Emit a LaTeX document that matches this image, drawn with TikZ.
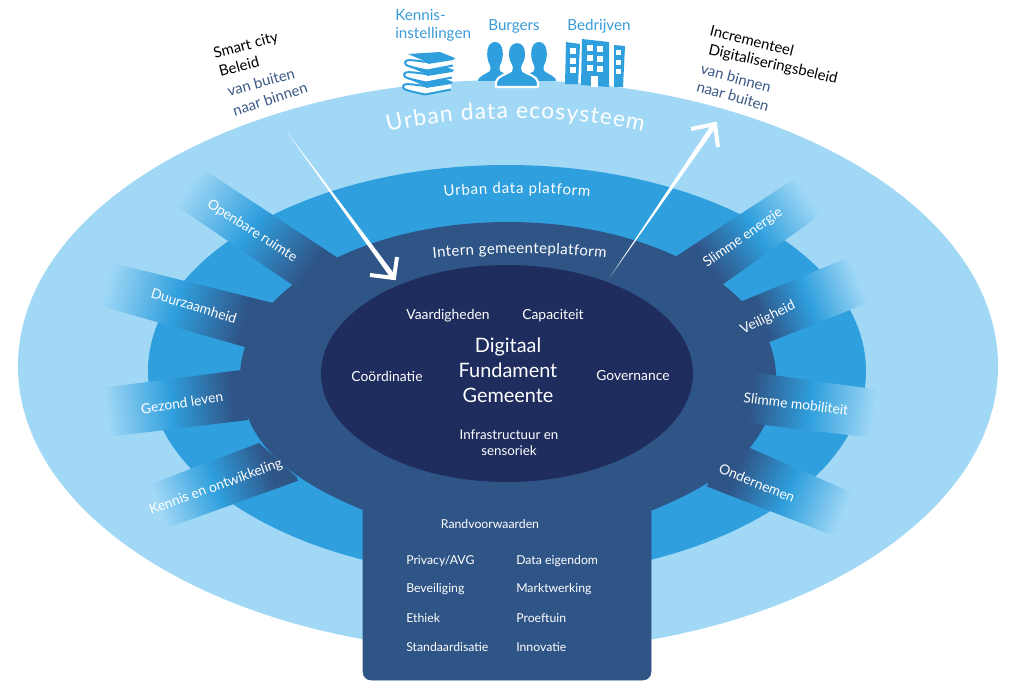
\documentclass[tikz,border=0pt]{standalone}
\usepackage{fontspec}
\setmainfont{Lato}
\usetikzlibrary{calc,decorations.text}
\definecolor{outerc}{HTML}{A1D8F6}
\definecolor{platc}{HTML}{2F9FDD}
\definecolor{internc}{HTML}{2F5486}
\definecolor{innerc}{HTML}{1F2D5E}
\definecolor{icontext}{HTML}{3A9BD8}
\definecolor{subtext}{HTML}{3C5A86}
\pgfdeclarehorizontalshading{bandgrad}{100bp}{color(0bp)=(outerc); color(29bp)=(outerc); color(49bp)=(platc); color(68bp)=(internc); color(100bp)=(internc)}
\newcommand{\fs}[1]{\fontsize{#1}{#1}\selectfont}
\tikzset{
  lbl/.style={text=white,font=\fs{10.4},inner sep=0pt},
  boxlbl/.style={text=white,font=\fs{9.2},inner sep=0pt,anchor=west},
  bandlbl/.style={text=white,font=\fs{10.4},inner sep=0pt},
  toplbl/.style={text=icontext,font=\fs{11.4},inner sep=0pt},
  blacklbl/.style={text=black,font=\fs{11.2},inner sep=0pt},
  sublbl/.style={text=subtext,font=\fs{11.2},inner sep=0pt},
}
% name, outer-top, inner-top, inner-bottom, outer-bottom
\newcommand{\bandshape}[5]{%
  \path let \p1=($#2!.5!#5$), \p2=($#3!.5!#4$), \p3=($(\p1)!.5!(\p2)$),
      \n1={atan2(\y2-\y1,\x2-\x1)}, \n2={veclen(\x2-\x1,\y2-\y1)} in
      \pgfextra{\xdef\bcx{\x3}\xdef\bcy{\y3}\xdef\bang{\n1}\xdef\blen{\n2}};
  \begin{scope}
    \clip #2 -- #3 -- #4 -- #5 -- cycle;
    \begin{scope}[transform canvas={shift={(\bcx,\bcy)},rotate=\bang}]
      \shade[shading=bandgrad] (-\blen/2-8pt,-80pt) rectangle (\blen/2+8pt,80pt);
    \end{scope}
  \end{scope}}
\newcommand{\bookicon}[1]{%
  \begin{scope}[shift={#1}]
    \fill[platc] (408,54) -- (440,52) -- (455,58) -- (427,62) -- cycle;
    \draw[platc,line width=1.5pt,line join=round,fill=white] (453,58.5) -- (427,62) .. controls (412,60) and (405,59) .. (405,62.5) .. controls (404,66) and (412,67) .. (427,70.5) -- (453,65.5);
    \fill[platc] (427,62) -- (455,58) -- (453,60) -- (428,64) -- cycle;
  \end{scope}}
\newcommand{\personicon}[3]{% cx, scale, outline
  \begin{scope}[shift={(#1,0)}]
    \path[fill=platc,draw=#3,line width=1.6pt,line join=round]
      (-#2*21,87) -- (-#2*21,82) .. controls (-#2*20,76) and (-#2*10,74) .. (-#2*6,71)
      .. controls (-#2*5,68) and (-#2*5,67) .. (-#2*6,65)
      .. controls (-#2*11,58) and (-#2*11,42) .. (0,42)
      .. controls (#2*11,42) and (#2*11,58) .. (#2*6,65)
      .. controls (#2*5,67) and (#2*5,68) .. (#2*6,71)
      .. controls (#2*10,74) and (#2*20,76) .. (#2*21,82) -- (#2*21,87) -- cycle;
  \end{scope}}
\begin{document}
\begin{tikzpicture}[x=0.75pt,y=-0.75pt]
\useasboundingbox (0,0) rectangle (1024,697);
\fill[white] (0,0) rectangle (1024,697);
% ellipses
\fill[outerc] (508,366) ellipse [x radius=490,y radius=286];
\fill[platc] (507,371) ellipse [x radius=359,y radius=206];
\fill[internc] (508,377) ellipse [x radius=268,y radius=155];
\fill[internc] (240,372) .. controls (240,425) and (265,470) .. (363,510) -- (653,510) .. controls (751,470) and (776,425) .. (776,372) -- cycle;
% bands
\bandshape{b1}{(200,167)}{(338,258)}{(310,297)}{(168,200)}
\bandshape{b2}{(113,263)}{(273,303)}{(245,347)}{(90,303)}
\bandshape{b3}{(100,388)}{(241,370)}{(248,420)}{(107,437)}
\bandshape{b4}{(143,487)}{(259,443)}{(300,480)}{(170,527)}
\bandshape{b5}{(797,177)}{(675,257)}{(722,285)}{(823,213)}
\bandshape{b6}{(847,258)}{(740,302)}{(767,343)}{(870,302)}
\bandshape{b7}{(880,390)}{(737,370)}{(740,422)}{(873,438)}
\bandshape{b8}{(853,493)}{(750,448)}{(703,485)}{(837,537)}
% lower box
\draw[fill=internc,draw=internc,rounded corners=6pt] (363,490) -- (363,680) -- (651,680) -- (651,490) -- cycle;
% inner ellipse
\fill[innerc] (507,373.5) ellipse [x radius=186,y radius=108.5];
% arrows
\coordinate (a1s) at (287,132);
\coordinate (a1t) at (394,278);
\coordinate (a1u) at (397,257);
\coordinate (a1v) at (370,275);
\fill[white] (a1s) -- ($(a1t)!2pt!90:(a1s)$) -- ($(a1t)!2pt!-90:(a1s)$) -- cycle;
\draw[white,line width=3pt] (a1u) -- (a1t) -- (a1v);
\coordinate (a2s) at (610,277);
\coordinate (a2t) at (715,124);
\coordinate (a2u) at (691,129);
\coordinate (a2v) at (718,147);
\fill[white] (a2s) -- ($(a2t)!2pt!90:(a2s)$) -- ($(a2t)!2pt!-90:(a2s)$) -- cycle;
\draw[white,line width=3pt] (a2u) -- (a2t) -- (a2v);
% curved titles
\path[decorate,decoration={text along path,text align=fit to path,text={|\fs{17}\color{white}|Urban data ecosysteem}}]
  (388,132) .. controls (460,114) and (570,114) .. (643,132);
\path[decorate,decoration={text along path,text align=fit to path,text={|\fs{11.3}\color{white}|Urban data platform}}]
  (444,197) .. controls (490,192) and (545,192) .. (590,197);
\path[decorate,decoration={text along path,text align=fit to path,text={|\fs{11.3}\color{white}|Intern gemeenteplatform}}]
  (433,258) .. controls (490,252) and (550,252) .. (606,258);
% band labels
\node[bandlbl,rotate=-33] (t1) at (252,231) {Openbare ruimte};
\node[bandlbl,rotate=-17] (t2) at (194,306) {Duurzaamheid};
\node[bandlbl,rotate=9] (t3) at (182,403) {Gezond leven};
\node[bandlbl,rotate=20] (t4) at (216,487) {Kennis en ontwikkeling};
\node[bandlbl,rotate=35] (t5) at (743,238) {Slimme energie};
\node[bandlbl,rotate=26] (t6) at (768,318) {Veiligheid};
\node[bandlbl,rotate=-7] (t7) at (796,404) {Slimme mobiliteit};
\node[bandlbl,rotate=-22] (t8) at (757,483) {Ondernemen};
% inner labels
\node[lbl] (vaard) at (448,316) {Vaardigheden};
\node[lbl] (capa) at (553,316) {Capaciteit};
\node[lbl] (coord) at (387,376) {Coördinatie};
\node[lbl] (gov) at (633,376) {Governance};
\node[lbl,align=center,font={\fontsize{14.9}{18.6}\selectfont}] (fund) at (508,370) {Digitaal\\Fundament\\Gemeente};
\node[lbl,align=center,font={\fontsize{10}{12}\selectfont}] (infra) at (509,443) {Infrastructuur en\\sensoriek};
% box labels
\node[boxlbl,anchor=center] (rand) at (490,524) {Randvoorwaarden};
\node[boxlbl] (p1) at (406,561) {Privacy/AVG};
\node[boxlbl] (p2) at (406,589.5) {Beveiliging};
\node[boxlbl] (p3) at (406,618) {Ethiek};
\node[boxlbl] (p4) at (406,647) {Standaardisatie};
\node[boxlbl] (q1) at (516,561) {Data eigendom};
\node[boxlbl] (q2) at (516,589.5) {Marktwerking};
\node[boxlbl] (q3) at (516,618) {Proeftuin};
\node[boxlbl] (q4) at (516,647) {Innovatie};
% side texts
\node[blacklbl,rotate=15] (s1) at (246,46) {Smart city};
\node[blacklbl,rotate=15] (s2) at (239,66) {Beleid};
\node[sublbl,rotate=15] (s3) at (261,82) {van buiten};
\node[sublbl,rotate=18] (s4) at (270,99) {naar binnen};
\node[blacklbl,rotate=-14] (i1) at (752,41) {Incrementeel};
\node[blacklbl,rotate=-13] (i2) at (773,65) {Digitaliseringsbeleid};
\node[sublbl,rotate=-15] (i3) at (736,78) {van binnen};
\node[sublbl,rotate=-16] (i4) at (733,96) {naar buiten};
% top labels
\node[toplbl,anchor=west] (k1) at (395,15) {Kennis-};
\node[toplbl,anchor=west] (k2) at (395,34) {instellingen};
\node[toplbl] (burg) at (514,26) {Burgers};
\node[toplbl] (bedr) at (599,26.5) {Bedrijven};
% books
\bookicon{(-2,24)}
\bookicon{(-1,12)}
\bookicon{(0,0)}
% people
\begin{scope}
  \clip (470,30) rectangle (565,80);
  \personicon{495}{0.85}{none}
  \personicon{539}{0.85}{none}
\end{scope}
\personicon{517}{1}{white}
% building
\fill[platc] (566,42) -- (580,44) -- (578,84) -- (565,84) -- cycle;
\fill[platc] (582,39) -- (609,42) -- (609,87) -- (581,85) -- cycle;
\fill[platc] (614,45) -- (625,46) -- (623,87) -- (614,87) -- cycle;
\foreach \y in {48,58,67}{\fill[white] (570,\y) rectangle +(6,6);}
\foreach \y in {45,55,65}{\fill[white] (587,\y) rectangle +(6,6);\fill[white] (597,\y+0.5) rectangle +(6,6);}
\foreach \y in {50,60,69}{\fill[white] (616,\y) rectangle +(5,5);}
\fill[white] (591,76) rectangle (598,87);
\end{tikzpicture}
\end{document}
